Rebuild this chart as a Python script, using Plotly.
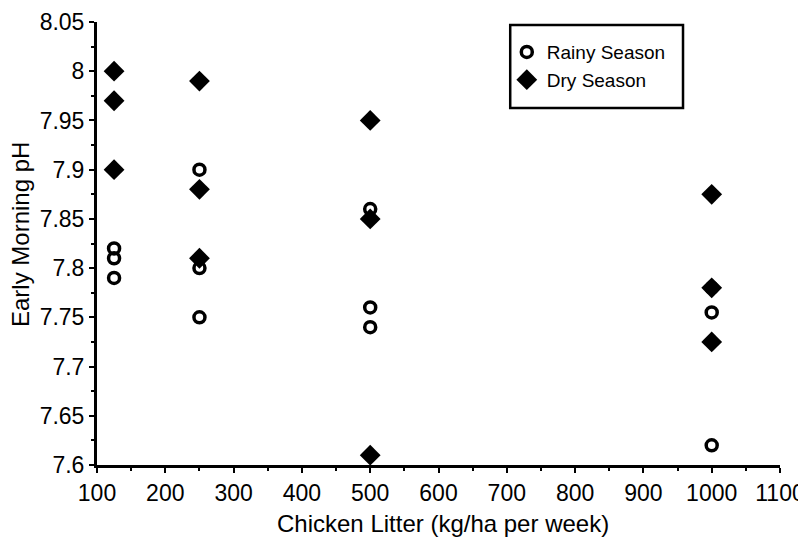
import plotly.graph_objects as go

# chicken litter rate (kg/ha per week) and early morning pH
rainy_x = [125, 125, 125, 250, 250, 250, 500, 500, 500, 1000, 1000, 1000]
rainy_ph = [7.82, 7.81, 7.79, 7.90, 7.80, 7.75, 7.86, 7.76, 7.74, 7.78, 7.755, 7.62]

dry_x = [125, 125, 125, 250, 250, 250, 500, 500, 500, 1000, 1000, 1000]
dry_ph = [8.00, 7.97, 7.90, 7.99, 7.88, 7.81, 7.95, 7.85, 7.61, 7.875, 7.78, 7.725]

x_ticks = [100, 200, 300, 400, 500, 600, 700, 800, 900, 1000, 1100]
y_ticks = [7.6, 7.65, 7.7, 7.75, 7.8, 7.85, 7.9, 7.95, 8.0, 8.05]
y_labels = ['7.6', '7.65', '7.7', '7.75', '7.8', '7.85', '7.9', '7.95', '8', '8.05']

FONT = 'Liberation Sans, Arial, sans-serif'

fig = go.Figure()

fig.add_trace(go.Scatter(
    x=rainy_x, y=rainy_ph, mode='markers', name='Rainy Season',
    marker=dict(symbol='circle-open', size=11, color='black',
                line=dict(width=3.5, color='black'))
))
fig.add_trace(go.Scatter(
    x=dry_x, y=dry_ph, mode='markers', name='Dry Season',
    marker=dict(symbol='diamond', size=16, color='black')
))

# legend frame
fig.add_shape(type='rect', xref='paper', yref='paper',
              x0=0.605, x1=0.858, y0=0.806, y1=0.993,
              line=dict(color='black', width=2.5), fillcolor='white', layer='below')

# axis titles as annotations so the margins stay fixed
fig.add_annotation(text='Chicken Litter (kg/ha per week)', xref='paper', yref='paper',
                   x=0.507, y=-0.133, xanchor='center', yanchor='middle', showarrow=False,
                   font=dict(family=FONT, size=24, color='black'))
fig.add_annotation(text='Early Morning pH', xref='paper', yref='paper',
                   x=-0.113, y=0.521, xanchor='center', yanchor='middle',
                   showarrow=False, textangle=-90,
                   font=dict(family=FONT, size=24, color='black'))

axis_common = dict(
    showline=True, linecolor='black', linewidth=3,
    ticks='outside', tickcolor='black', ticklen=5, tickwidth=2,
    showgrid=False, zeroline=False, mirror=False,
    automargin=False, ticklabeloverflow='allow',
    tickfont=dict(family=FONT, size=23, color='black'),
)

# page body has an 8px margin, so the figure is shifted to compensate
fig.update_layout(
    width=798, height=532,
    margin=dict(l=89, r=26, t=14, b=75),
    paper_bgcolor='white', plot_bgcolor='white',
    font=dict(family=FONT, size=19, color='black'),
    showlegend=True,
    legend=dict(x=0.60, y=0.975, xanchor='left', yanchor='top',
                bgcolor='rgba(0,0,0,0)', borderwidth=0,
                font=dict(family=FONT, size=19, color='black'),
                itemwidth=30, tracegroupgap=0),
    xaxis=dict(
        range=[100, 1100], tickvals=x_ticks,
        minor=dict(ticks='outside', dtick=50, ticklen=3, tickcolor='black', tickwidth=1.5),
        **axis_common
    ),
    yaxis=dict(
        range=[7.6, 8.05], tickvals=y_ticks, ticktext=y_labels,
        minor=dict(ticks='outside', dtick=0.025, ticklen=3, tickcolor='black', tickwidth=1.5),
        **axis_common
    ),
)

fig.write_html('out.html')
